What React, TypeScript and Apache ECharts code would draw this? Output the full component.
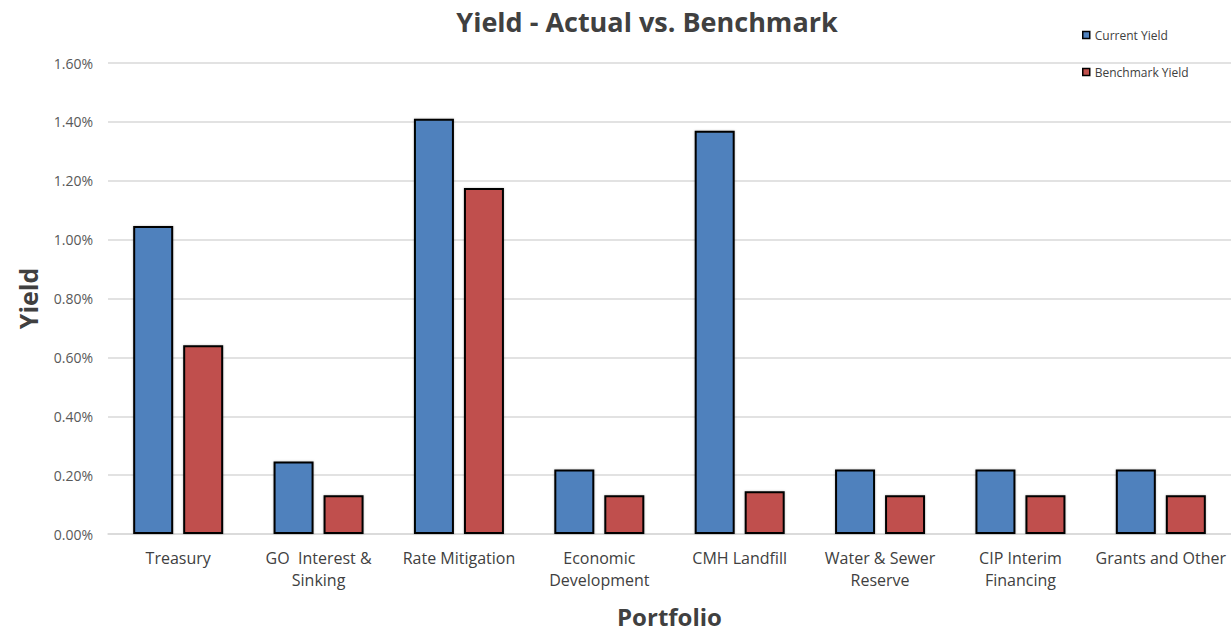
import React, { useEffect, useRef } from "react";
import * as echarts from "echarts";

const categories = [
  "Treasury",
  "GO  Interest &\nSinking",
  "Rate Mitigation",
  "Economic\nDevelopment",
  "CMH Landfill",
  "Water & Sewer\nReserve",
  "CIP Interim\nFinancing",
  "Grants and Other",
];
const currentYield = [1.046, 0.246, 1.411, 0.219, 1.37, 0.219, 0.219, 0.219];
const benchmarkYield = [0.641, 0.132, 1.175, 0.132, 0.145, 0.132, 0.132, 0.132];
const yTicks = { min: 0, max: 1.6, interval: 0.2 };

const FONT = "'Open Sans', 'Liberation Sans', sans-serif";

export default function App() {
  const ref = useRef<HTMLDivElement>(null);
  useEffect(() => {
    if (!ref.current) return;
    const chart = echarts.init(ref.current, undefined, { renderer: "svg" });
    chart.setOption({
      animation: false,
      backgroundColor: "#ffffff",
      textStyle: { fontFamily: FONT },
      title: {
        text: "Yield - Actual vs. Benchmark",
        left: 642,
        top: 3,
        textAlign: "center",
        textStyle: { fontFamily: FONT, fontSize: 27, fontWeight: "bold", color: "#404040" },
      },
      legend: {
        orient: "vertical",
        left: 1077,
        top: 24,
        itemGap: 25,
        itemWidth: 7,
        itemHeight: 7,
        icon: "rect",
        textStyle: { fontFamily: FONT, fontSize: 12, color: "#404040" },
        itemStyle: { borderColor: "#000", borderWidth: 1.5 },
        data: ["Current Yield", "Benchmark Yield"],
      },
      grid: { left: 108, right: 0, top: 63, bottom: 96, containLabel: false },
      xAxis: {
        type: "category",
        data: categories,
        name: "Portfolio",
        nameLocation: "middle",
        nameGap: 70,
        nameTextStyle: { fontFamily: FONT, fontSize: 24, fontWeight: "bold", color: "#404040" },
        axisLine: { lineStyle: { color: "#d9d9d9", width: 1.5 } },
        axisTick: { show: false },
        axisLabel: {
          fontFamily: FONT,
          fontSize: 16,
          color: "#404040",
          margin: 13,
          lineHeight: 22,
          interval: 0,
        },
      },
      yAxis: {
        type: "value",
        min: yTicks.min,
        max: yTicks.max,
        interval: yTicks.interval,
        name: "Yield",
        nameLocation: "middle",
        nameRotate: 90,
        nameGap: 68,
        nameTextStyle: { fontFamily: FONT, fontSize: 25, fontWeight: "bold", color: "#404040" },
        axisLine: { show: false },
        axisTick: { show: false },
        splitLine: { lineStyle: { color: "#d9d9d9", width: 1.5 } },
        axisLabel: {
          fontFamily: FONT,
          fontSize: 14,
          color: "#595959",
          margin: 15,
          formatter: (v: number) => v.toFixed(2) + "%",
        },
      },
      series: [
        {
          name: "Current Yield",
          type: "bar",
          data: currentYield,
          barWidth: 40,
          barGap: "25%",
          itemStyle: {
            color: "#4f81bd",
            borderColor: "#000",
            borderWidth: 2,
            shadowBlur: 2,
            shadowColor: "rgba(0,0,0,0.25)",
          },
        },
        {
          name: "Benchmark Yield",
          type: "bar",
          data: benchmarkYield,
          barWidth: 40,
          itemStyle: {
            color: "#c0504d",
            borderColor: "#000",
            borderWidth: 2,
            shadowBlur: 2,
            shadowColor: "rgba(0,0,0,0.25)",
          },
        },
      ],
    });
    return () => chart.dispose();
  }, []);
  return (
    <div
      ref={ref}
      style={{ position: "fixed", left: 0, top: 0, width: 1231, height: 633 }}
    />
  );
}
